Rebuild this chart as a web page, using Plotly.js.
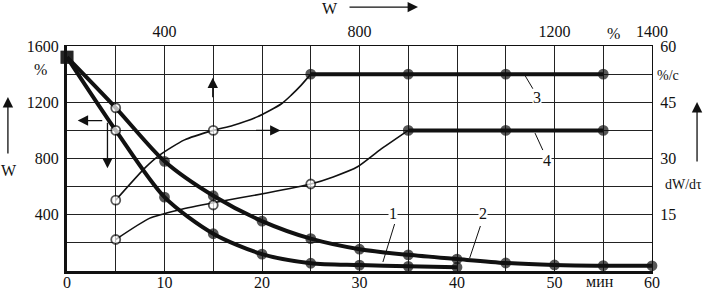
<!DOCTYPE html>
<html>
<head>
<meta charset="utf-8">
<script src="https://cdn.plot.ly/plotly-3.0.1.min.js"></script>
<style>
  html, body { margin: 0; padding: 0; background: #fff; }
  #chart { width: 718px; height: 290px; }
</style>
</head>
<body>
<div id="chart"></div>
<script>
// ---- Data ----
// Curves 1 and 2: moisture W (%) vs time (min), bottom/left axes
const minutes1 = [0, 5, 10, 15, 20, 25, 30, 35, 40];
const curve1W  = [1520, 1000, 525, 265, 120, 55, 42, 33, 27];
const minutes2 = [0, 5, 10, 15, 20, 25, 30, 35, 40, 45, 50, 55, 60];
const curve2W  = [1520, 1160, 780, 535, 355, 230, 155, 115, 85, 57, 43, 38, 37];

// Curves 3 and 4: drying rate dW/dτ (%/c) vs moisture W (%), top/right axes
const moistureW  = [300, 500, 700, 900, 1100, 1300];
const curve3Rate = [18.9, 37.5, 52.5, 52.5, 52.5, 52.5];
const curve4Rate = [8.4, 17.6, 23.2, 37.5, 37.5, 37.5];

// Traced shape of the rising (thin) parts of curves 3 and 4
const curve3PathW    = [300, 360, 390, 440, 500, 540, 590, 640, 660, 680, 700];
const curve3PathRate = [18.9, 27.5, 30.9, 34.9, 37.5, 38.8, 41.1, 44.6, 46.9, 49.5, 52.5];
const curve4PathW    = [300, 370, 430, 500, 610, 700, 746, 796, 842, 900];
const curve4PathRate = [8.4, 14.1, 16.3, 18.2, 20.8, 23.2, 25.1, 27.8, 32.3, 37.5];

// Tick labels
const timeTicks   = [0, 10, 20, 30, 40, 50, 60];
const wLeftTicks  = [400, 800, 1200, 1600];
const wTopTicks   = [400, 800, 1200, 1400];
const rateTicks   = [15, 30, 45, 60];

// ---- Styling helpers ----
const FONT = 'Liberation Serif, Times New Roman, serif';
const INK = '#111';
function markerStyle(n, openIdx, squareIdx) {
  const color = [], symbol = [], size = [];
  for (let i = 0; i < n; i++) {
    const open = openIdx.includes(i);
    const sq = squareIdx.includes(i);
    color.push(open ? '#fff' : INK);
    symbol.push(sq ? 'square' : 'circle');
    size.push(sq ? 11 : 9);
  }
  return { color, symbol, size, line: { color: INK, width: 1.8 } };
}

const traces = [];
// Curve 1
traces.push({ x: minutes1, y: curve1W, xaxis: 'x', yaxis: 'y', mode: 'lines',
  line: { color: INK, width: 4, shape: 'spline', smoothing: 0.8 }, hoverinfo: 'skip' });
// Curve 2
traces.push({ x: minutes2, y: curve2W, xaxis: 'x', yaxis: 'y', mode: 'lines',
  line: { color: INK, width: 4, shape: 'spline', smoothing: 0.8 }, hoverinfo: 'skip' });
// Curve 3 rising part and plateau
traces.push({ x: curve3PathW, y: curve3PathRate, xaxis: 'x2', yaxis: 'y2', mode: 'lines',
  line: { color: INK, width: 1.6, shape: 'spline', smoothing: 0.6 }, hoverinfo: 'skip' });
traces.push({ x: moistureW.slice(2), y: curve3Rate.slice(2), xaxis: 'x2', yaxis: 'y2', mode: 'lines',
  line: { color: INK, width: 4 }, hoverinfo: 'skip' });
// Curve 4 rising part and plateau
traces.push({ x: curve4PathW, y: curve4PathRate, xaxis: 'x2', yaxis: 'y2', mode: 'lines',
  line: { color: INK, width: 1.6, shape: 'spline', smoothing: 0.6 }, hoverinfo: 'skip' });
traces.push({ x: moistureW.slice(3), y: curve4Rate.slice(3), xaxis: 'x2', yaxis: 'y2', mode: 'lines',
  line: { color: INK, width: 4 }, hoverinfo: 'skip' });

// Markers
traces.push({ x: minutes1, y: curve1W, xaxis: 'x', yaxis: 'y', mode: 'markers', cliponaxis: false,
  marker: markerStyle(minutes1.length, [1], [0]), hoverinfo: 'skip' });
traces.push({ x: minutes2, y: curve2W, xaxis: 'x', yaxis: 'y', mode: 'markers', cliponaxis: false,
  marker: markerStyle(minutes2.length, [1], [0]), hoverinfo: 'skip' });
traces.push({ x: moistureW, y: curve3Rate, xaxis: 'x2', yaxis: 'y2', mode: 'markers', cliponaxis: false,
  marker: markerStyle(moistureW.length, [0, 1], []), hoverinfo: 'skip' });
traces.push({ x: moistureW, y: curve4Rate, xaxis: 'x2', yaxis: 'y2', mode: 'markers', cliponaxis: false,
  marker: markerStyle(moistureW.length, [0, 1, 2], []), hoverinfo: 'skip' });

// Tick arrays
const xGrid = []; for (let v = 0; v <= 60; v += 5) xGrid.push(v);
const xText = xGrid.map(v => timeTicks.includes(v) ? String(v) : '');
const yGrid = []; for (let v = 0; v <= 1600; v += 200) yGrid.push(v);
const yText = yGrid.map(v => wLeftTicks.includes(v) ? String(v) : '');

const tickFont = { family: FONT, size: 16, color: INK };

const annFont = { family: FONT, size: 16, color: INK };
function txt(x, y, text, xref, yref, extra) {
  return Object.assign({ x, y, xref: xref || 'paper', yref: yref || 'paper', text, showarrow: false,
    font: annFont, xanchor: 'center', yanchor: 'middle' }, extra || {});
}
function arrow(x, y, ax, ay, xref, yref) {
  return { x, y, ax, ay, axref: 'pixel', ayref: 'pixel', xref: xref || 'paper', yref: yref || 'paper',
    text: '', showarrow: true, arrowhead: 2, arrowsize: 1.6, arrowwidth: 1.3, arrowcolor: INK };
}

const annotations = [
  // outside labels
  txt(0.45, 1.165, 'W'),
  arrow(0.600, 1.173, -70, 0),
  arrow(-0.101, 0.773, 0, 58),
  txt(-0.099, 0.445, 'W'),
  txt(-0.046, 0.895, '%'),
  txt(0.935, 1.055, '%'),
  txt(1.027, 0.871, '%/c', 'paper', 'paper', { font: { family: FONT, size: 14, color: INK } }),
  arrow(1.077, 0.751, 0, 61),
  txt(1.053, 0.385, 'dW/dτ', 'paper', 'paper', { font: { family: FONT, size: 14, color: INK } }),
  txt(0.911, -0.045, 'мин'),
  // in-plot direction arrows (data coordinates)
  arrow(1.1, 1070, 26, 0, 'x', 'y'),
  arrow(4.15, 730, 0, -47, 'x', 'y'),
  arrow(14.95, 1375, 0, 21, 'x', 'y'),
  arrow(21.9, 1000, -26, 0, 'x', 'y'),
  // curve labels
  txt(33.4, 412, '1', 'x', 'y', { bgcolor: '#fff', borderpad: 0 }),
  txt(42.7, 412, '2', 'x', 'y', { bgcolor: '#fff', borderpad: 0 }),
  txt(48.2, 1237, '3', 'x', 'y', { bgcolor: '#fff', borderpad: 0 }),
  txt(49.2, 789, '4', 'x', 'y', { bgcolor: '#fff', borderpad: 0 })
];

const shapes = [
  // leader lines for curve labels
  { type: 'line', xref: 'x', yref: 'y', x0: 33.6, y0: 334, x1: 32.4, y1: 64, line: { color: INK, width: 1 } },
  { type: 'line', xref: 'x', yref: 'y', x0: 42.4, y0: 320, x1: 41.3, y1: 92, line: { color: INK, width: 1 } },
  { type: 'line', xref: 'x', yref: 'y', x0: 47.8, y0: 1294, x1: 47.0, y1: 1387, line: { color: INK, width: 1 } },
  { type: 'line', xref: 'x', yref: 'y', x0: 48.8, y0: 860, x1: 48.0, y1: 981, line: { color: INK, width: 1 } }
];

const layout = {
  width: 718, height: 290,
  margin: { l: 67, r: 66, t: 46, b: 19, pad: 0 },
  paper_bgcolor: '#fff', plot_bgcolor: '#fff',
  showlegend: false,
  font: { family: FONT, size: 16, color: INK },
  xaxis: {
    range: [0, 60], tickvals: xGrid, ticktext: xText, showgrid: true, gridcolor: '#222', gridwidth: 1,
    zeroline: false, showline: true, linecolor: INK, linewidth: 3, ticks: '', tickfont: tickFont,
    ticklabelstandoff: -5, fixedrange: true
  },
  yaxis: {
    range: [0, 1600], tickvals: yGrid, ticktext: yText, showgrid: true, gridcolor: '#222', gridwidth: 1,
    zeroline: false, showline: true, linecolor: INK, linewidth: 3, ticks: '', tickfont: tickFont,
    ticklabelstandoff: 2, fixedrange: true
  },
  xaxis2: {
    range: [200, 1400], overlaying: 'x', side: 'top', anchor: 'y', tickvals: wTopTicks, ticktext: wTopTicks.map(String),
    showgrid: false, zeroline: false, showline: true, linecolor: INK, linewidth: 1, ticks: '', tickfont: tickFont,
    ticklabelstandoff: 2, fixedrange: true
  },
  yaxis2: {
    range: [0, 60], overlaying: 'y', side: 'right', anchor: 'x', tickvals: rateTicks, ticktext: rateTicks.map(String),
    showgrid: false, zeroline: false, showline: true, linecolor: INK, linewidth: 1, ticks: '', tickfont: tickFont,
    ticklabelstandoff: 4, fixedrange: true
  },
  annotations, shapes
};

Plotly.newPlot('chart', traces, layout, { displayModeBar: false, staticPlot: true });
</script>
</body>
</html>
